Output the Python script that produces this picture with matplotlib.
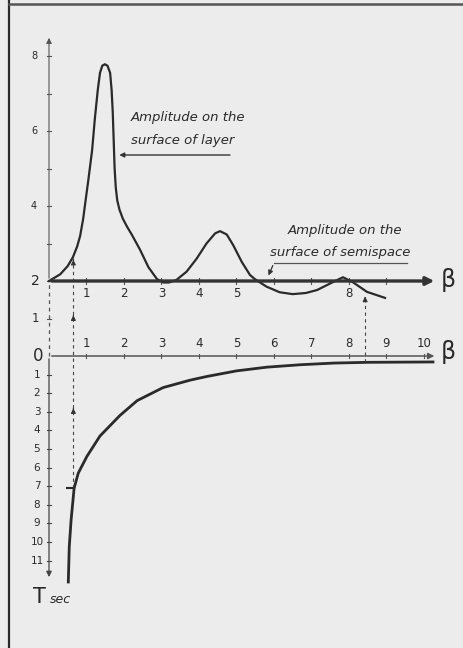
import matplotlib
matplotlib.use("Agg")
import matplotlib.pyplot as plt

# amplitude on the surface of the layer
layer_beta = [0.00, 0.30, 0.50, 0.64, 0.75, 0.83, 0.91, 0.96, 1.05, 1.15, 1.22, 1.30,
              1.36, 1.42, 1.49, 1.56, 1.63, 1.67, 1.70, 1.73, 1.75, 1.78, 1.82, 1.88,
              1.97, 2.08, 2.20, 2.43, 2.65, 2.88, 3.05, 3.20, 3.40, 3.67, 3.94, 4.20,
              4.43, 4.56, 4.74, 4.91, 5.14, 5.36, 5.49, 5.80, 6.15, 6.50, 6.85, 7.15,
              7.57, 7.84, 8.10, 8.48, 8.96]
layer_amp = [2.00, 2.18, 2.40, 2.64, 2.92, 3.20, 3.65, 4.03, 4.70, 5.49, 6.30, 7.09,
             7.55, 7.74, 7.78, 7.74, 7.55, 7.09, 6.50, 5.60, 5.00, 4.50, 4.15, 3.90,
             3.66, 3.45, 3.25, 2.83, 2.37, 2.05, 1.96, 1.96, 2.03, 2.25, 2.60, 3.00,
             3.27, 3.33, 3.24, 2.96, 2.51, 2.16, 2.05, 1.85, 1.70, 1.65, 1.68, 1.76,
             1.97, 2.10, 1.97, 1.71, 1.55]

# amplitude on the surface of the semispace (constant)
semispace_amp = 2.0

# period T (sec) against beta
period_beta = [0.515, 0.54, 0.59, 0.615, 0.67, 0.78, 1.01, 1.36, 1.89, 2.35, 3.04,
               3.76, 4.21, 5.00, 5.81, 6.70, 7.60, 8.50, 10.24]
period_t = [12.15, 10.27, 8.80, 8.28, 7.10, 6.30, 5.40, 4.30, 3.20, 2.40, 1.70,
            1.30, 1.10, 0.80, 0.60, 0.47, 0.38, 0.34, 0.32]

upper_beta_labels = [1, 2, 3, 4, 5, 8]
lower_beta_labels = [1, 2, 3, 4, 5, 6, 7, 8, 9, 10]
amp_labels = [8, 6, 4]
t_labels = [1, 2, 3, 4, 5, 6, 7, 8, 9, 10, 11]

BG = "#ececec"
INK = "#2a2a2a"
T_SCALE = 18.6 / 37.5  # one second on the T axis, in amplitude units

fig = plt.figure(figsize=(4.64, 6.48), dpi=100, facecolor=BG)
ax = fig.add_axes([0, 0, 1, 1])
ax.set_facecolor(BG)
ax.set_xlim(-49 / 37.5, 415 / 37.5)
ax.set_ylim(-292 / 37.5, 356 / 37.5)
ax.axis("off")

# page frame
ax.plot([9 / 464, 9 / 464], [0, 1], color=INK, lw=1.6, transform=ax.transAxes)
ax.plot([9 / 464, 1], [1 - 4 / 648, 1 - 4 / 648], color="#555555", lw=1.8,
        transform=ax.transAxes)

# vertical axis: amplitude up, T down
ax.annotate("", xy=(0, 8.56), xytext=(0, 2),
            arrowprops=dict(arrowstyle="-|>", color="#555555", lw=0.8,
                            mutation_scale=8))
ax.plot([0, 0], [0, 2], color="#555555", lw=0.9, ls=(0, (3, 3)))
ax.annotate("", xy=(0, -5.97), xytext=(0, 0),
            arrowprops=dict(arrowstyle="-|>", color="#444444", lw=0.9,
                            mutation_scale=8))
for v in range(1, 9):
    ax.plot([-0.06, 0.06], [v, v], color="#555555", lw=0.8)
for v in amp_labels:
    ax.text(-0.4, v, str(v), ha="center", va="center", fontsize=7, color=INK)
ax.text(-0.35, 2, "2", ha="center", va="center", fontsize=10, color=INK)
ax.text(-0.35, 1, "1", ha="center", va="center", fontsize=8.5, color=INK)
ax.text(-0.3, 0, "0", ha="center", va="center", fontsize=12, color=INK)
for t in t_labels:
    ax.plot([-0.06, 0.06], [-t * T_SCALE] * 2, color="#444444", lw=0.8)
    ax.text(-0.32, -t * T_SCALE, str(t), ha="center", va="center",
            fontsize=7.5, color=INK)
ax.text(-0.25, -6.42, "T", ha="center", va="center", fontsize=15, color=INK)
ax.text(0.3, -6.5, "sec", ha="center", va="center", fontsize=9,
        style="italic", color=INK)

# upper beta axis (semispace amplitude line)
ax.annotate("", xy=(10.35, semispace_amp), xytext=(0, semispace_amp),
            arrowprops=dict(arrowstyle="-|>", color="#333333", lw=2.4,
                            mutation_scale=12))
for b in range(1, 11):
    ax.plot([b, b], [semispace_amp - 0.07, semispace_amp + 0.07],
            color="#555555", lw=0.8)
for b in upper_beta_labels:
    ax.text(b, 1.66, str(b), ha="center", va="center", fontsize=8.5, color=INK)
ax.text(10.66, 2.02, "β", ha="center", va="center", fontsize=17, color=INK)

# lower beta axis
ax.annotate("", xy=(10.35, 0), xytext=(0, 0),
            arrowprops=dict(arrowstyle="-|>", color="#555555", lw=1.1,
                            mutation_scale=9))
for b in lower_beta_labels:
    ax.plot([b, b], [-0.06, 0.06], color="#555555", lw=0.8)
    ax.text(b, 0.33, str(b), ha="center", va="center", fontsize=8.5, color=INK)
ax.text(10.66, 0.1, "β", ha="center", va="center", fontsize=17, color=INK)

# curves
ax.plot(layer_beta, layer_amp, color=INK, lw=1.6, solid_joinstyle="round")
ax.plot(period_beta, [-t * T_SCALE for t in period_t], color=INK, lw=2.0,
        solid_joinstyle="round")

# dashed guide lines with arrows
ax.plot([0.65, 0.65], [-7.1 * T_SCALE, 2.64], color="#444444", lw=0.8,
        ls=(0, (3, 3)))
for y in [-1.44, 1.04, 2.52]:
    ax.annotate("", xy=(0.65, y + 0.12), xytext=(0.65, y - 0.05),
                arrowprops=dict(arrowstyle="-|>", color="#333333", lw=0.8,
                                mutation_scale=7))
ax.plot([0.48, 0.67], [-7.1 * T_SCALE] * 2, color=INK, lw=1.5)
ax.plot([8.43, 8.43], [-0.34 * T_SCALE, 1.5], color="#444444", lw=0.8,
        ls=(0, (3, 3)))
ax.annotate("", xy=(8.43, 1.66), xytext=(8.43, 1.45),
            arrowprops=dict(arrowstyle="-|>", color="#333333", lw=0.8,
                            mutation_scale=7))

# labels of the two amplitudes
ax.text(2.18, 6.35, "Amplitude on the", fontsize=9.5, style="italic",
        ha="left", va="center", color=INK)
ax.text(2.18, 5.76, "surface of layer", fontsize=9.5, style="italic",
        ha="left", va="center", color=INK)
ax.annotate("", xy=(1.8, 5.36), xytext=(4.9, 5.36),
            arrowprops=dict(arrowstyle="-|>", color="#333333", lw=1.0,
                            mutation_scale=7))
ax.text(6.37, 3.36, "Amplitude on the", fontsize=9.5, style="italic",
        ha="left", va="center", color=INK)
ax.text(5.89, 2.75, "surface of semispace", fontsize=9.5, style="italic",
        ha="left", va="center", color=INK)
ax.plot([9.55, 6.0], [2.48, 2.48], color="#555555", lw=0.9)
ax.annotate("", xy=(5.82, 2.08), xytext=(6.0, 2.48),
            arrowprops=dict(arrowstyle="-|>", color="#333333", lw=0.9,
                            mutation_scale=7))

fig.savefig("out.png", dpi=100, facecolor=BG)
